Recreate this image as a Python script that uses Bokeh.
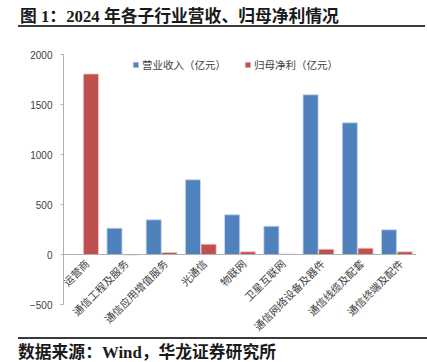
import math
from bokeh.plotting import figure
from bokeh.models import ColumnDataSource, FactorRange, Range1d, FixedTicker, Legend, LegendItem, Div
from bokeh.transform import dodge
from bokeh.layouts import column
from bokeh.core.properties import value
from bokeh.embed import file_html
from bokeh.resources import INLINE

# ---- data ----
categories = ["运营商", "通信工程及服务", "通信应用增值服务", "光通信", "物联网",
              "卫星互联网", "通信网络设备及器件", "通信线缆及配套", "通信终端及配件"]
revenue = [float("nan"), 263, 347, 747, 397, 283, 1597, 1317, 247]   # 营业收入（亿元）
profit = [1805, -5, 20, 103, 27, 5, 53, 63, 27]                        # 归母净利（亿元）
y_ticks = [-500, 0, 500, 1000, 1500, 2000]
title_text = "图 1：2024 年各子行业营收、归母净利情况"
source_text = "数据来源：Wind，华龙证券研究所"
series_names = ["营业收入（亿元）", "归母净利（亿元）"]

CJK = "Noto Sans CJK SC"
HEAD_FONT = "'Liberation Serif', 'Noto Sans CJK SC', serif"
W = 427

# ---- title strip (HTML) ----
title_html = (
    f'<div style="margin:7px 0 0 18px; padding:0 0 6px 2px; width:407px; height:20px; '
    f'border-bottom:2px solid #3a3a3a; font-family:{HEAD_FONT}; font-weight:bold; '
    f'font-size:16.8px; line-height:20px; color:#1a1a1a; white-space:nowrap;">{title_text}</div>'
)
t = Div(text=title_html, width=W, height=36, styles={"margin": "0", "padding": "0"})

# ---- main chart ----
src = ColumnDataSource(dict(cat=categories, rev=revenue, prof=profit,
                            zero=[0] * len(categories)))
p = figure(width=W, height=300, x_range=FactorRange(*categories, range_padding=0),
           y_range=Range1d(-820, 2000), output_backend="svg", toolbar_location=None,
           min_border_left=63, min_border_right=11, min_border_top=18, min_border_bottom=0)
p.grid.visible = False
p.outline_line_color = None

r1 = p.vbar(x=dodge("cat", -0.2, range=p.x_range), top="rev", width=0.385, source=src,
            fill_color="#4F81BD", line_color="#c8d8ee", line_width=0.8)
r2 = p.vbar(x=dodge("cat", 0.2, range=p.x_range), top="prof", width=0.385, source=src,
            fill_color="#C0504D", line_color="#ecc8c7", line_width=0.8)

yax = p.yaxis[0]
yax.ticker = FixedTicker(ticks=y_ticks)
yax.bounds = (-500, 2000)
yax.major_label_overrides = {-500: "−500"}
yax.axis_line_color = "#b0b0b0"
yax.major_tick_line_color = "#b0b0b0"
yax.major_tick_out = 3
yax.major_tick_in = 0
yax.minor_tick_line_color = None
yax.major_label_standoff = 8
yax.major_label_text_font = "Liberation Sans"
yax.major_label_text_font_size = "10px"
yax.major_label_text_color = "#404040"

xax = p.xaxis[0]
xax.fixed_location = 0
xax.axis_line_color = "#b0b0b0"
xax.major_tick_line_color = None
xax.minor_tick_line_color = None
xax.major_label_text_alpha = 0
xax.major_label_text_font_size = "1px"

# category labels, rotated 45°, ending under each category
p.text(x="cat", y="zero", text="cat", source=src, angle=math.pi / 4,
       text_align="right", text_baseline="middle", x_offset=4, y_offset=7,
       text_font=value(CJK), text_font_size="10.5px", text_color="#404040")

legend = Legend(items=[LegendItem(label=series_names[0], renderers=[r1]),
                       LegendItem(label=series_names[1], renderers=[r2])],
                location=(69, 264), orientation="horizontal")
legend.glyph_width = 7
legend.glyph_height = 7
legend.label_height = 12
legend.label_standoff = 3
legend.spacing = 18
legend.padding = 2
legend.margin = 0
legend.border_line_color = None
legend.background_fill_alpha = 0
legend.label_text_font = CJK
legend.label_text_font_size = "10.5px"
legend.label_text_color = "#404040"
p.add_layout(legend, "center")

# ---- footer strip (HTML) ----
foot_html = (
    f'<div style="margin:1px 0 0 18px; padding:4px 0 0 0; width:409px; height:19px; '
    f'border-top:2px solid #3a3a3a; font-family:{HEAD_FONT}; font-weight:bold; '
    f'font-size:16.8px; line-height:19px; color:#1a1a1a; white-space:nowrap;">{source_text}</div>'
)
f = Div(text=foot_html, width=W, height=26, styles={"margin": "0", "padding": "0"})

layout = column(t, p, f, spacing=0)
open("out.html", "w").write(file_html(layout, INLINE))
